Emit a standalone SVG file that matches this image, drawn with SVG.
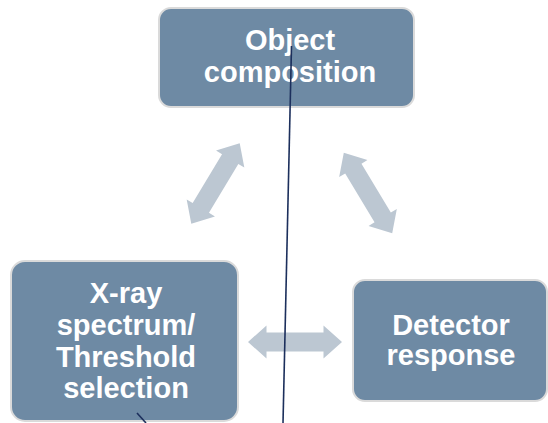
<svg xmlns="http://www.w3.org/2000/svg" width="548" height="423" viewBox="0 0 548 423">
<style>
.box{fill:#6E8AA4;stroke:#DADADA;stroke-width:2}
.lbl{font-family:"Liberation Sans",Arial,sans-serif;font-weight:bold;font-size:29px;fill:#FFFFFF;text-anchor:middle}
.arr{fill:#BCC7D2}
.ln{stroke:#1C2F5C;stroke-width:1.6;fill:none}
</style>
<defs>
<path id="dbl" d="M -47 0 L -28.5 -16.5 L -28.5 -9.5 L 28.5 -9.5 L 28.5 -16.5 L 47 0 L 28.5 16.5 L 28.5 9.5 L -28.5 9.5 L -28.5 16.5 Z"/>
</defs>
<rect width="548" height="423" fill="#FFFFFF"/>
<g id="connectors">
<use href="#dbl" class="arr" transform="translate(215.5 183.5) rotate(121)"/>
<use href="#dbl" class="arr" transform="translate(368 193) rotate(59)"/>
<use href="#dbl" class="arr" transform="translate(295 342)"/>
</g>
<g id="object-composition">
<rect class="box" x="159" y="8" width="255" height="99" rx="12"/>
<text class="lbl" x="290" y="50">Object</text>
<text class="lbl" x="290" y="82">composition</text>
</g>
<g id="xray-spectrum">
<rect class="box" x="11" y="261" width="227" height="160" rx="14"/>
<text class="lbl" x="126" y="303">X-ray</text>
<text class="lbl" x="126" y="335">spectrum/</text>
<text class="lbl" x="126" y="367">Threshold</text>
<text class="lbl" x="126" y="398">selection</text>
</g>
<g id="detector-response">
<rect class="box" x="353" y="280" width="194" height="121" rx="12"/>
<text class="lbl" x="451" y="335">Detector</text>
<text class="lbl" x="451" y="365">response</text>
</g>
<g id="lines">
<line class="ln" x1="291.5" y1="46" x2="283" y2="423"/>
<line class="ln" x1="137" y1="413" x2="146" y2="423"/>
</g>
</svg>
